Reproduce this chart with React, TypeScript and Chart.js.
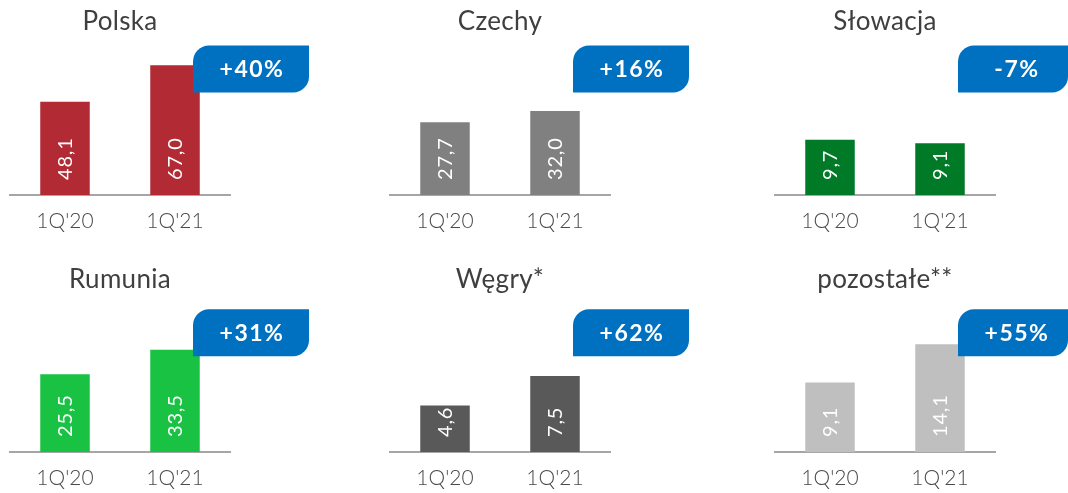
import React, { useEffect, useRef } from 'react';
import { Chart, registerables } from 'chart.js';

Chart.register(...registerables);

// ---- data ----
const categories = ["1Q'20", "1Q'21"];
const panelTitles = ['Polska', 'Czechy', 'Słowacja', 'Rumunia', 'Węgry*', 'pozostałe**'];
const polska = [48.1, 67.0];
const czechy = [27.7, 32.0];
const slowacja = [9.7, 9.1];
const rumunia = [25.5, 33.5];
const wegry = [4.6, 7.5];
const pozostale = [9.1, 14.1];
const seriesValues = [polska, czechy, slowacja, rumunia, wegry, pozostale];
const changeLabels = ['+40%', '+16%', '-7%', '+31%', '+62%', '+55%'];
const axisMax = [80, 59, 27.2, 50.8, 15.3, 20.3];

// ---- style ----
const barColors = ['#B22A33', '#808080', '#007A27', '#19C243', '#595959', '#BFBFBF'];
const badgeColor = '#0070C0';
const colLeft = [0, 380, 765];
const colWidth = [340, 340, 303];
const rowTop = [0, 257];
const canvasH = 236;
const rowTitleBase = [29.5, 31.3];
const rowBadgeTop = [45.5, 52.3];

const fmt = (v: number) => v.toFixed(1).replace('.', ',');

function makePlugin(idx: number, row: number) {
  return {
    id: 'panelDecor' + idx,
    afterDatasetsDraw(chart: any) {
      const ctx = chart.ctx as CanvasRenderingContext2D;
      const area = chart.chartArea;
      const meta = chart.getDatasetMeta(0);
      // value labels
      ctx.save();
      ctx.fillStyle = '#FFFFFF';
      ctx.font = '400 20px Lato';
      (ctx as any).letterSpacing = '0.8px';
      ctx.textAlign = 'left';
      ctx.textBaseline = 'middle';
      meta.data.forEach((bar: any, j: number) => {
        ctx.save();
        ctx.translate(bar.x + 1, bar.base - 15);
        ctx.rotate(-Math.PI / 2);
        ctx.fillText(fmt(seriesValues[idx][j]), 0, 0);
        ctx.restore();
      });
      ctx.restore();

      // badge
      const bx = area.left + 183;
      const by = rowBadgeTop[row];
      const bw = Math.min(116, chart.width - bx);
      const bh = 47;
      const r = 16;
      ctx.save();
      ctx.fillStyle = badgeColor;
      ctx.beginPath();
      ctx.moveTo(bx + r, by);
      ctx.lineTo(bx + bw, by);
      ctx.lineTo(bx + bw, by + bh - r);
      ctx.arcTo(bx + bw, by + bh, bx + bw - r, by + bh, r);
      ctx.lineTo(bx, by + bh);
      ctx.lineTo(bx, by + r);
      ctx.arcTo(bx, by, bx + r, by, r);
      ctx.closePath();
      ctx.fill();
      ctx.fillStyle = '#FFFFFF';
      ctx.font = 'bold 23px Lato';
      (ctx as any).letterSpacing = '1.5px';
      ctx.textAlign = 'center';
      ctx.textBaseline = 'middle';
      ctx.fillText(changeLabels[idx], bx + 116 / 2 + 1, by + bh / 2 + 1);
      ctx.restore();

      // title
      ctx.save();
      ctx.fillStyle = '#3F3F3F';
      ctx.font = '26px Lato';
      (ctx as any).letterSpacing = '0.3px';
      ctx.textAlign = 'center';
      ctx.textBaseline = 'alphabetic';
      ctx.fillText(panelTitles[idx], (area.left + area.right) / 2, rowTitleBase[row]);
      ctx.restore();
    },
  };
}

function Panel({ idx }: { idx: number }) {
  const ref = useRef<HTMLCanvasElement>(null);
  const col = idx % 3;
  const row = Math.floor(idx / 3);
  const w = colWidth[col];
  useEffect(() => {
    const chart = new Chart(ref.current as HTMLCanvasElement, {
      type: 'bar',
      data: {
        labels: categories,
        datasets: [
          {
            data: seriesValues[idx],
            backgroundColor: barColors[idx],
            barPercentage: 0.45,
            categoryPercentage: 1,
          },
        ],
      },
      options: {
        responsive: false,
        maintainAspectRatio: false,
        animation: false,
        devicePixelRatio: 1,
        layout: { padding: { left: 10, right: w - 230, top: 40, bottom: 0 } },
        plugins: { legend: { display: false }, tooltip: { enabled: false }, title: { display: false } },
        scales: {
          x: {
            grid: { display: false, drawTicks: false },
            border: { display: true, color: '#A6A6A6', width: 2 },
            ticks: { color: '#4A4A4A', font: { family: 'Lato', size: 21, weight: '300' as any }, padding: 14 },
            afterFit: (scale: any) => {
              scale.height = 41;
            },
          },
          y: { display: false, min: 0, max: axisMax[idx] },
        },
      },
      plugins: [makePlugin(idx, row)],
    } as any);
    return () => chart.destroy();
  }, []);
  return (
    <canvas
      ref={ref}
      width={w}
      height={canvasH}
      style={{ position: 'absolute', left: colLeft[col], top: rowTop[row], width: w, height: canvasH }}
    />
  );
}

export default function App() {
  return (
    <div
      style={{
        position: 'absolute',
        left: 0,
        top: 0,
        width: 1068,
        height: 493,
        overflow: 'hidden',
        background: '#FFFFFF',
      }}
    >
      {[0, 1, 2, 3, 4, 5].map((i) => (
        <Panel key={i} idx={i} />
      ))}
    </div>
  );
}
